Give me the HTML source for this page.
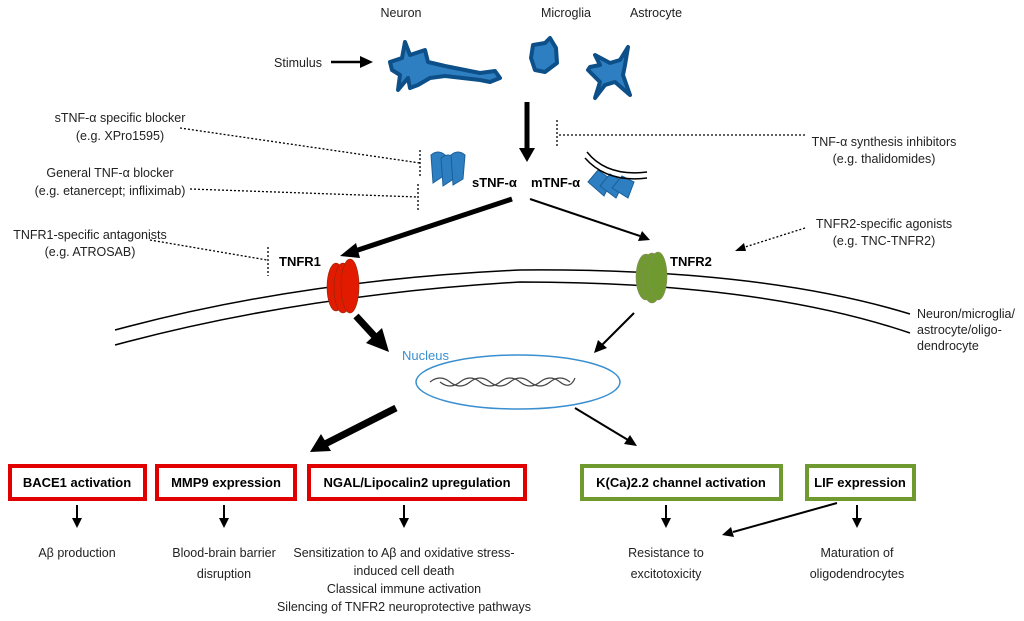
<!DOCTYPE html>
<html><head><meta charset="utf-8"><style>
html,body{margin:0;padding:0;background:#fff;}
svg{display:block;font-family:"Liberation Sans",Arial,sans-serif;}
</style></head><body>
<svg width="1024" height="621" viewBox="0 0 1024 621" xmlns="http://www.w3.org/2000/svg">
<g font-size="12.5" fill="#222" text-anchor="middle">
<text x="401" y="17">Neuron</text>
<text x="566" y="17">Microglia</text>
<text x="656" y="17">Astrocyte</text>
<text x="298" y="67">Stimulus</text>
<text x="120" y="122">sTNF-α specific blocker</text>
<text x="120" y="140">(e.g. XPro1595)</text>
<text x="110" y="177">General TNF-α blocker</text>
<text x="110" y="195">(e.g. etanercept; infliximab)</text>
<text x="90" y="239">TNFR1-specific antagonists</text>
<text x="90" y="256">(e.g. ATROSAB)</text>
<text x="884" y="146">TNF-α synthesis inhibitors</text>
<text x="884" y="163">(e.g. thalidomides)</text>
<text x="884" y="228">TNFR2-specific agonists</text>
<text x="884" y="245">(e.g. TNC-TNFR2)</text>
</g>
<g font-size="12.5" fill="#222">
<text x="917" y="318">Neuron/microglia/</text>
<text x="917" y="334">astrocyte/oligo-</text>
<text x="917" y="350">dendrocyte</text>
</g>
<g font-size="12.5" fill="#222" text-anchor="middle">
<text x="77" y="557">Aβ production</text>
<text x="224" y="557">Blood-brain barrier</text>
<text x="224" y="578">disruption</text>
<text x="404" y="557">Sensitization to Aβ and oxidative stress-</text>
<text x="404" y="575">induced cell death</text>
<text x="404" y="593">Classical immune activation</text>
<text x="404" y="611">Silencing of TNFR2 neuroprotective pathways</text>
<text x="666" y="557">Resistance to</text>
<text x="666" y="578">excitotoxicity</text>
<text x="857" y="557">Maturation of</text>
<text x="857" y="578">oligodendrocytes</text>
</g>
<text x="402" y="360" font-size="13" fill="#3a8fd0">Nucleus</text>
<g font-weight="bold" font-size="13" fill="#000">
<text x="472" y="187">sTNF-α</text>
<text x="531" y="187">mTNF-α</text>
<text x="279" y="266">TNFR1</text>
<text x="670" y="266">TNFR2</text>
</g>
<line x1="331" y1="62" x2="362" y2="62" stroke="#000" stroke-width="2.5"/>
<path d="M360,56 L373,62 L360,68 z"/>
<g fill="#2e7fc1" stroke="#0d4f88" stroke-width="4" stroke-linejoin="round">
<path d="M390,62 L402,58 L405,42 L410,55 L425,50 L428,62 L445,66 L480,73 L495,71 L500,78 L490,82 L480,80 L445,76 L430,78 L418,85 L410,88 L408,78 L398,90 L400,75 L392,70 z"/>
<path d="M533,45 L545,43 L550,38 L556,48 L557,63 L545,72 L535,70 L531,58 z"/>
<path d="M590,67 L600,65 L595,55 L610,63 L620,60 L628,47 L625,65 L623,75 L630,95 L615,82 L605,85 L595,98 L600,82 L588,70 z"/>
</g>
<line x1="527" y1="102" x2="527" y2="150" stroke="#000" stroke-width="5"/>
<path d="M519,148 L535,148 L527,162 z"/>
<g fill="#2e7fc1" stroke="#1a5f98" stroke-width="1">
<path d="M431,155 q7,-6 14,0 l0,20 l-12,8 z"/><path d="M441,158 q7,-6 14,0 l0,20 l-12,8 z"/><path d="M451,155 q7,-6 14,0 l-2,24 l-10,6 z"/>
<path d="M588,182 l10,-12 l14,10 l-8,16 z"/><path d="M600,186 l10,-12 l14,8 l-8,16 z"/><path d="M612,188 l10,-12 l12,6 l-6,16 z"/>
</g>
<path d="M587,152 q20,25 60,20" fill="none" stroke="#000" stroke-width="1.5"/>
<path d="M585,158 q22,25 62,20" fill="none" stroke="#000" stroke-width="1.5"/>
<g stroke="#000" stroke-width="1.3" stroke-dasharray="2,2" fill="none">
<line x1="180" y1="128" x2="420" y2="163"/><line x1="420" y1="150" x2="420" y2="177"/>
<line x1="190" y1="189" x2="418" y2="197"/><line x1="418" y1="184" x2="418" y2="210"/>
<line x1="805" y1="135" x2="558" y2="135"/><line x1="557" y1="120" x2="557" y2="147"/>
<line x1="150" y1="240" x2="267" y2="260"/><line x1="268" y1="247" x2="268" y2="276"/>
<line x1="805" y1="228" x2="742" y2="248"/>
</g>
<path d="M735,251 l9,-8 l2,8 z" fill="#000"/>
<line x1="512" y1="199" x2="355" y2="251" stroke="#000" stroke-width="5"/>
<path d="M340,256 L356,243 L360,258 z"/>
<line x1="530" y1="199" x2="640" y2="236" stroke="#000" stroke-width="2"/>
<path d="M650,240 L638,241 L642,231 z"/>
<g fill="none" stroke="#000" stroke-width="1.5">
<path d="M115,330 Q300,280 520,270 Q760,268 910,314"/>
<path d="M115,345 Q300,295 520,282 Q760,282 910,333"/>
</g>
<g fill="#e21a00" stroke="#8a2a10" stroke-width="0.6">
<ellipse cx="336" cy="287" rx="9" ry="24"/><ellipse cx="343" cy="288" rx="9" ry="25"/><ellipse cx="350" cy="286" rx="9" ry="27"/>
</g>
<g fill="#6e9a30" stroke="#8a8a60" stroke-width="0.6">
<ellipse cx="646" cy="277" rx="10" ry="23"/><ellipse cx="652" cy="278" rx="10" ry="25"/><ellipse cx="658" cy="276" rx="9" ry="24"/>
</g>
<line x1="356" y1="316" x2="378" y2="340" stroke="#000" stroke-width="7"/>
<path d="M389,352 L366,343 L382,328 z"/>
<line x1="634" y1="313" x2="602" y2="345" stroke="#000" stroke-width="2"/>
<path d="M594,353 L598,340 L607,348 z"/>
<ellipse cx="518" cy="382" rx="102" ry="27" fill="none" stroke="#3a8fd0" stroke-width="1.5"/>
<g fill="none" stroke="#444" stroke-width="1.2">
<path d="M430,382 q10,-8 20,0 t20,0 t20,0 t20,0 t20,0 t20,0 t20,0"/>
<path d="M440,382 q10,8 20,0 t20,0 t20,0 t20,0 t20,0 t20,0 t15,-4"/>
</g>
<line x1="396" y1="408" x2="325" y2="444" stroke="#000" stroke-width="7"/>
<path d="M310,452 L321,434 L331,451 z"/>
<line x1="575" y1="408" x2="628" y2="440" stroke="#000" stroke-width="2"/>
<path d="M637,446 L624,444 L630,435 z"/>
<g fill="#fff" stroke-width="4">
<rect x="10" y="466" width="135" height="33" stroke="#e00000"/>
<rect x="157" y="466" width="138" height="33" stroke="#e00000"/>
<rect x="309" y="466" width="216" height="33" stroke="#e00000"/>
<rect x="582" y="466" width="199" height="33" stroke="#6e9a30"/>
<rect x="807" y="466" width="107" height="33" stroke="#6e9a30"/>
</g>
<g font-weight="bold" font-size="13" text-anchor="middle" fill="#000">
<text x="77" y="487">BACE1 activation</text>
<text x="226" y="487">MMP9 expression</text>
<text x="417" y="487">NGAL/Lipocalin2 upregulation</text>
<text x="681" y="487">K(Ca)2.2 channel activation</text>
<text x="860" y="487">LIF expression</text>
</g>
<g stroke="#000" stroke-width="2">
<line x1="77" y1="505" x2="77" y2="520"/><line x1="224" y1="505" x2="224" y2="520"/><line x1="404" y1="505" x2="404" y2="520"/><line x1="666" y1="505" x2="666" y2="520"/><line x1="857" y1="505" x2="857" y2="520"/>
<line x1="837" y1="503" x2="733" y2="532"/>
</g>
<g fill="#000">
<path d="M72,518 L82,518 L77,528 z"/><path d="M219,518 L229,518 L224,528 z"/><path d="M399,518 L409,518 L404,528 z"/><path d="M661,518 L671,518 L666,528 z"/><path d="M852,518 L862,518 L857,528 z"/>
<path d="M722,535 L731,527 L734,537 z"/>
</g>
</svg>
</body></html>
